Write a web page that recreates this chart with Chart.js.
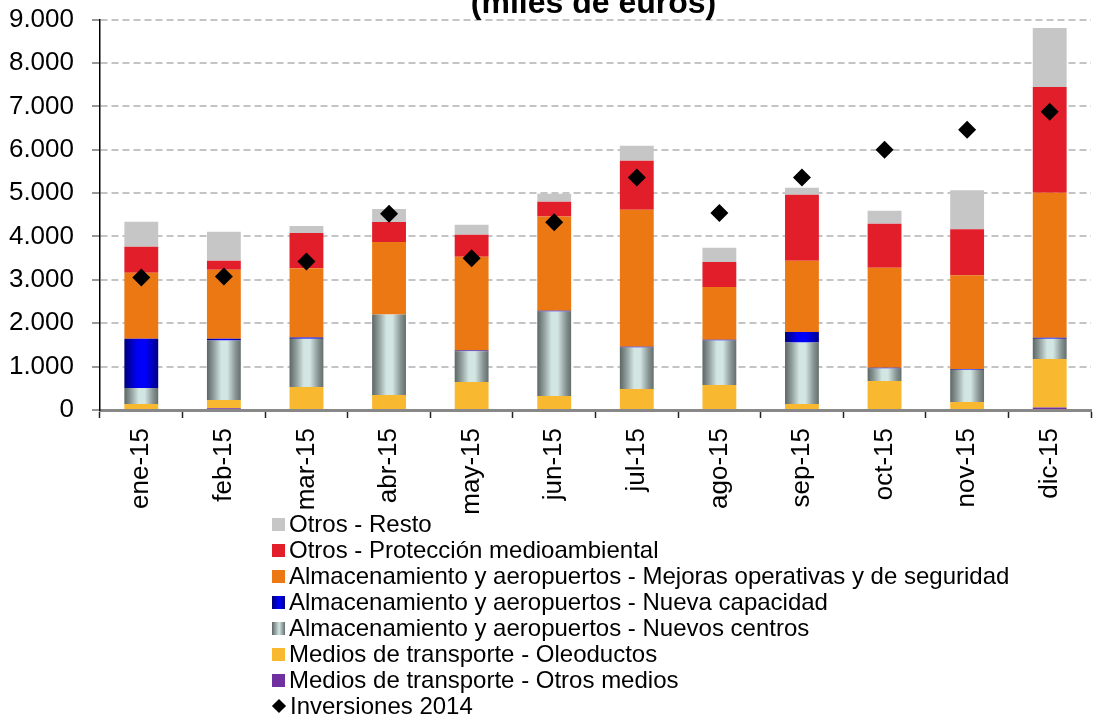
<!DOCTYPE html>
<html>
<head>
<meta charset="utf-8">
<script src="https://cdn.jsdelivr.net/npm/chart.js@4"></script>
<style>
    html, body { margin: 0; padding: 0; background: #fff; overflow: hidden; width: 1094px; height: 718px; }
    #wrap { position: relative; width: 1094px; height: 718px; overflow: hidden; }
    #chart { position: absolute; left: 0; top: -14px; }
    #legend { position: absolute; left: 272px; top: 511px; font-family: "Liberation Sans", Arial, sans-serif; font-size: 24px; color: #000; }
    .item { height: 26px; line-height: 26px; display: flex; align-items: center; white-space: nowrap; }
    .box { width: 13px; height: 13px; margin-right: 4px; flex: none; }
    .diamond { width: 10px; height: 10px; background: #000; transform: rotate(45deg); margin: 0 6px 0 2px; flex: none; }
</style>
</head>
<body>
<div id="wrap">
    <canvas id="chart" width="1100" height="732"></canvas>
    <div id="legend"></div>
</div>
<script>
const months = ['ene-15', 'feb-15', 'mar-15', 'abr-15', 'may-15', 'jun-15', 'jul-15', 'ago-15', 'sep-15', 'oct-15', 'nov-15', 'dic-15'];

// stacked from the bottom up
const otrosMedios = [0, 40, 0, 0, 0, 0, 0, 0, 0, 0, 0, 55];
const oleoductos = [140, 190, 530, 345, 645, 325, 485, 575, 140, 670, 185, 1120];
const nuevosCentros = [370, 1370, 1115, 1855, 710, 1945, 955, 1025, 1415, 285, 745, 470];
const nuevaCapacidad = [1130, 40, 25, 0, 18, 18, 18, 18, 245, 18, 18, 18];
const mejoras = [1525, 1595, 1600, 1675, 2160, 2170, 3160, 1220, 1640, 2305, 2160, 3345];
const proteccion = [600, 205, 810, 460, 505, 345, 1130, 575, 1525, 1015, 1060, 2440];
const resto = [575, 670, 160, 300, 230, 180, 345, 325, 160, 300, 900, 1360];
const inversiones2014 = [3055, 3075, 3425, 4525, 3500, 4330, 5360, 4540, 5360, 6000, 6460, 6875];

const yTicks = [0, 1000, 2000, 3000, 4000, 5000, 6000, 7000, 8000, 9000];

const barPct = 0.41;
const font = 'Liberation Sans, Arial, sans-serif';

function barGradient(stops) {
    return function (c) {
        const chart = c.chart;
        const x = chart.scales.x;
        if (!x || !chart.chartArea) return stops[Math.floor(stops.length / 2)][1];
        const cx = x.getPixelForValue(c.dataIndex);
        const w = x.width / months.length * barPct;
        const g = chart.ctx.createLinearGradient(cx - w / 2, 0, cx + w / 2, 0);
        stops.forEach(s => g.addColorStop(s[0], s[1]));
        return g;
    };
}

const greyStops = [[0, '#5c6765'], [0.18, '#8b9896'], [0.42, '#d1e5e1'], [0.6, '#d3e6e3'], [0.85, '#869391'], [1, '#646f6d']];
const blueStops = [[0, '#00007a'], [0.35, '#0000ee'], [0.6, '#0000ff'], [1, '#000088']];

const series = [
    { label: 'Medios de transporte - Otros medios', data: otrosMedios, color: '#7030a0' },
    { label: 'Medios de transporte - Oleoductos', data: oleoductos, color: '#f8b830' },
    { label: 'Almacenamiento y aeropuertos - Nuevos centros', data: nuevosCentros, color: barGradient(greyStops), css: 'linear-gradient(90deg,#5c6765,#d3e6e3 55%,#646f6d)' },
    { label: 'Almacenamiento y aeropuertos - Nueva capacidad', data: nuevaCapacidad, color: barGradient(blueStops), css: 'linear-gradient(90deg,#00007a,#0000ff 55%,#000088)' },
    { label: 'Almacenamiento y aeropuertos - Mejoras operativas y de seguridad', data: mejoras, color: '#ec7813' },
    { label: 'Otros - Protección medioambiental', data: proteccion, color: '#e21e2b' },
    { label: 'Otros - Resto', data: resto, color: '#c6c6c6' }
];

const datasets = series.map(s => ({
    type: 'bar',
    label: s.label,
    data: s.data,
    backgroundColor: s.color,
    borderWidth: 0,
    barPercentage: barPct,
    categoryPercentage: 1,
    stack: 'a',
    order: 1
}));
datasets.push({
    type: 'line',
    label: 'Inversiones 2014',
    data: inversiones2014,
    showLine: false,
    pointStyle: 'rectRot',
    pointRadius: 9,
    pointHoverRadius: 9,
    pointBackgroundColor: '#000',
    pointBorderColor: '#000',
    pointBorderWidth: 0,
    order: 0
});

// title sits mostly above the visible area, as in the original
const titlePlugin = {
    id: 'cutTitle',
    afterDraw(chart) {
        const ctx = chart.ctx;
        const a = chart.chartArea;
        ctx.save();
        ctx.font = 'bold 32px ' + font;
        ctx.fillStyle = '#000';
        ctx.textAlign = 'center';
        ctx.textBaseline = 'alphabetic';
        ctx.fillText('(miles de euros)', (a.left + a.right) / 2 - 2, 27);
        ctx.restore();
    }
};

const chart = new Chart(document.getElementById('chart').getContext('2d'), {
    data: { labels: months, datasets: datasets },
    plugins: [titlePlugin],
    options: {
        responsive: false,
        animation: false,
        layout: { padding: { top: 5, left: 0, right: 0, bottom: 0 } },
        plugins: {
            legend: { display: false },
            tooltip: { enabled: false }
        },
        scales: {
            x: {
                stacked: true,
                offset: true,
                afterFit(s) { s.height = 308; },
                grid: { drawOnChartArea: false, offset: true, tickLength: 8, tickColor: '#222', tickWidth: 1.5 },
                border: { color: '#888', width: 3 },
                ticks: { minRotation: 90, maxRotation: 90, padding: 10, color: '#000', font: { family: font, size: 26 } }
            },
            y: {
                stacked: true,
                min: 0,
                max: 9000,
                afterFit(s) { s.width = 100; },
                afterBuildTicks(s) { s.ticks = yTicks.map(v => ({ value: v })); },
                grid: { color: '#c4c4c4', lineWidth: 2, tickLength: 8, tickColor: '#777', tickWidth: 1.5, tickBorderDash: [] },
                border: { color: '#000', width: 1.5, dash: [7, 4] },
                ticks: {
                    padding: 18,
                    color: '#000',
                    font: { family: font, size: 26 },
                    callback: v => v.toLocaleString('de-DE')
                }
            }
        }
    }
});

function buildLegend() {
    const box = document.getElementById('legend');
    const items = series.slice().reverse();
    items.forEach(s => {
        const row = document.createElement('div');
        row.className = 'item';
        const sw = document.createElement('span');
        sw.className = 'box';
        sw.style.background = s.css || s.color;
        row.appendChild(sw);
        row.appendChild(document.createTextNode(s.label));
        box.appendChild(row);
    });
    const row = document.createElement('div');
    row.className = 'item';
    const d = document.createElement('span');
    d.className = 'diamond';
    row.appendChild(d);
    row.appendChild(document.createTextNode('Inversiones 2014'));
    box.appendChild(row);
}
buildLegend();
</script>
</body>
</html>
